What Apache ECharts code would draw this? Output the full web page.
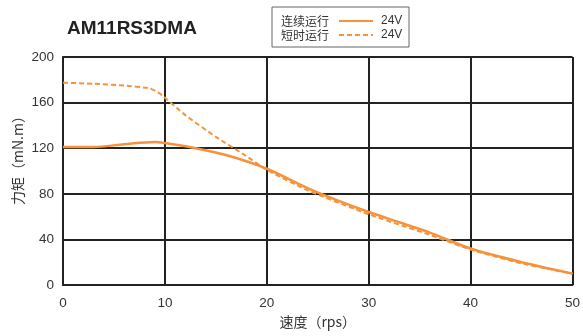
<!DOCTYPE html>
<html><head><meta charset="utf-8">
<script src="https://cdn.jsdelivr.net/npm/echarts@6/dist/echarts.min.js"></script>
<style>html,body{margin:0;padding:0;background:#fff}#c{width:583px;height:336px}</style>
</head><body><div id="c"></div>
<script>
var contSpeed = [0, 3, 6, 9, 10, 13, 16, 20, 24, 27, 30, 33, 36, 40, 45, 50];
var contTorque = [121, 121, 123.5, 125.5, 124.5, 120, 114, 102, 85, 74, 64, 55, 46, 32, 20, 10];
var shortSpeed = [0, 3, 6, 8.5, 9.5, 12, 15, 18, 20, 24, 30, 36, 40, 45, 50];
var shortTorque = [177.5, 176.5, 175, 172.5, 168, 149, 130, 113, 101, 83, 62, 44, 31, 19, 10];
var seriesNames = ['连续运行', '短时运行'];
var voltage = '24V';
var titleText = 'AM11RS3DMA';
var xName = '速度（rps）';
var yName = '力矩（mN.m）';

function pairs(xs, ys){ return xs.map(function(x,i){ return [x, ys[i]]; }); }
var orange = '#F7923A';
var font = 'Liberation Sans, Arial, sans-serif';
var cjk = 'Noto Sans CJK SC, sans-serif';
var chart = echarts.init(document.getElementById('c'), null, {renderer:'canvas'});
chart.setOption({
  animation: false,
  textStyle: {fontFamily: font},
  title: {text: titleText, left: 62, top: 14, textStyle: {fontSize: 19, fontWeight: 'bold', color: '#222', fontFamily: font}},
  legend: {
    left: 272, top: 7, orient: 'vertical', align: 'right',
    itemWidth: 34, itemHeight: 12, itemGap: 2,
    padding: [8, 35, 6, 9],
    borderColor: '#666', borderWidth: 1,
    itemStyle: {opacity: 0},
    textStyle: {fontSize: 12, color: '#333', fontFamily: cjk, padding: [0, 5, 0, 0]},
    data: seriesNames
  },
  graphic: [
    {type: 'text', left: 381, top: 15, style: {text: voltage, fontSize: 12, fill: '#333', fontFamily: font}},
    {type: 'text', left: 381, top: 29, style: {text: voltage, fontSize: 12, fill: '#333', fontFamily: font}},
    {type: 'text', x: 18, y: 157, rotation: Math.PI / 2,
     style: {text: yName, fontSize: 14, fill: '#333', fontFamily: cjk, align: 'center', verticalAlign: 'middle'}}
  ],
  grid: {left: 63, right: 6, top: 57, bottom: 51},
  xAxis: {
    type: 'value', min: 0, max: 50, interval: 10,
    name: xName, nameLocation: 'middle', nameGap: 29,
    nameTextStyle: {fontSize: 14, color: '#333', fontFamily: cjk},
    axisLine: {show: true, lineStyle: {color: '#222', width: 2}},
    axisTick: {show: false},
    axisLabel: {fontSize: 13.5, color: '#333', margin: 11},
    splitLine: {show: true, lineStyle: {color: '#222', width: 2}}
  },
  yAxis: {
    type: 'value', min: 0, max: 200, interval: 40,
    axisLine: {show: true, lineStyle: {color: '#222', width: 2}},
    axisTick: {show: false},
    axisLabel: {fontSize: 13.5, color: '#333', margin: 9},
    splitLine: {show: true, lineStyle: {color: '#222', width: 2}}
  },
  series: [
    {name: seriesNames[0], type: 'line', data: pairs(contSpeed, contTorque), symbol: 'none', smooth: 0.3,
     lineStyle: {color: orange, width: 2.5}, itemStyle: {color: orange}},
    {name: seriesNames[1], type: 'line', data: pairs(shortSpeed, shortTorque), symbol: 'none', smooth: 0.15,
     lineStyle: {color: orange, width: 2, type: [5, 3]}, itemStyle: {color: orange}}
  ]
});
</script></body></html>
